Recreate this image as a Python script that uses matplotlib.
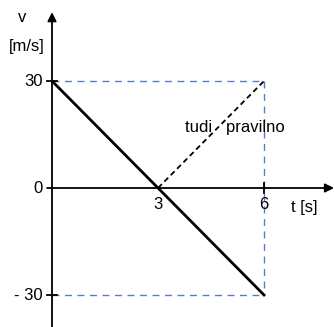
import matplotlib
matplotlib.use("Agg")
import matplotlib.pyplot as plt

plt.rcParams['font.family'] = ['Liberation Sans', 'DejaVu Sans']

# data
t_line = [0, 6]
v_line = [30, -30]
t_alt = [3, 6]
v_alt = [0, 30]
t_max = 6
v_max = 30
x_ticks = [3, 6]
x_tick_labels = ['3', '6']
y_ticks = [30, 0, -30]
y_tick_labels = ['30', '0', '- 30']

fig = plt.figure(figsize=(3.34, 3.27), dpi=100)
ax = fig.add_axes([0, 0, 1, 1])
ax.set_xlim(-1.472, 7.98)
ax.set_ylim(-38.97, 52.71)
ax.axis('off')

blue = '#5b7bc8'
# guide lines
ax.plot([0, t_max], [v_max, v_max], color=blue, lw=1, dashes=(5, 4))
ax.plot([0, t_max], [-v_max, -v_max], color=blue, lw=1, dashes=(5, 4))
ax.plot([t_max, t_max], [v_max, -v_max], color=blue, lw=1, dashes=(5, 4))

# axes with arrows
ax.annotate('', xy=(7.98, 0), xytext=(-0.14, 0),
            arrowprops=dict(arrowstyle='-|>', color='black', lw=1.3,
                            mutation_scale=13, shrinkA=0, shrinkB=0))
ax.annotate('', xy=(0, 49.3), xytext=(0, -38.97),
            arrowprops=dict(arrowstyle='-|>', color='black', lw=1.3,
                            mutation_scale=13, shrinkA=0, shrinkB=0))

# ticks
for y in [30, -30]:
    ax.plot([-0.14, 0.14], [y, y], color='black', lw=1.3)
for x in [6]:
    ax.plot([x, x], [-1.4, 1.4], color='black', lw=1.3)

# main line and alternative
ax.plot(t_line, v_line, color='black', lw=2)
ax.plot(t_alt, v_alt, color='black', lw=1.3, dashes=(3, 2))

# labels
for y, lab in zip(y_ticks, y_tick_labels):
    ax.text(-0.27, y, lab, ha='right', va='center', fontsize=12)
for x, lab in zip(x_ticks, x_tick_labels):
    ax.text(x, -2.6, lab, ha='center', va='top', fontsize=12)
ax.text(7.13, -5.6, 't [s]', ha='center', va='center', fontsize=12)
ax.text(-0.85, 47.8, 'v', ha='center', va='center', fontsize=12)
ax.text(-0.72, 39.8, '[m/s]', ha='center', va='center', fontsize=12)
ax.text(5.18, 17.1, 'tudi   pravilno', ha='center', va='center', fontsize=12)

fig.savefig('out.png', dpi=100)
